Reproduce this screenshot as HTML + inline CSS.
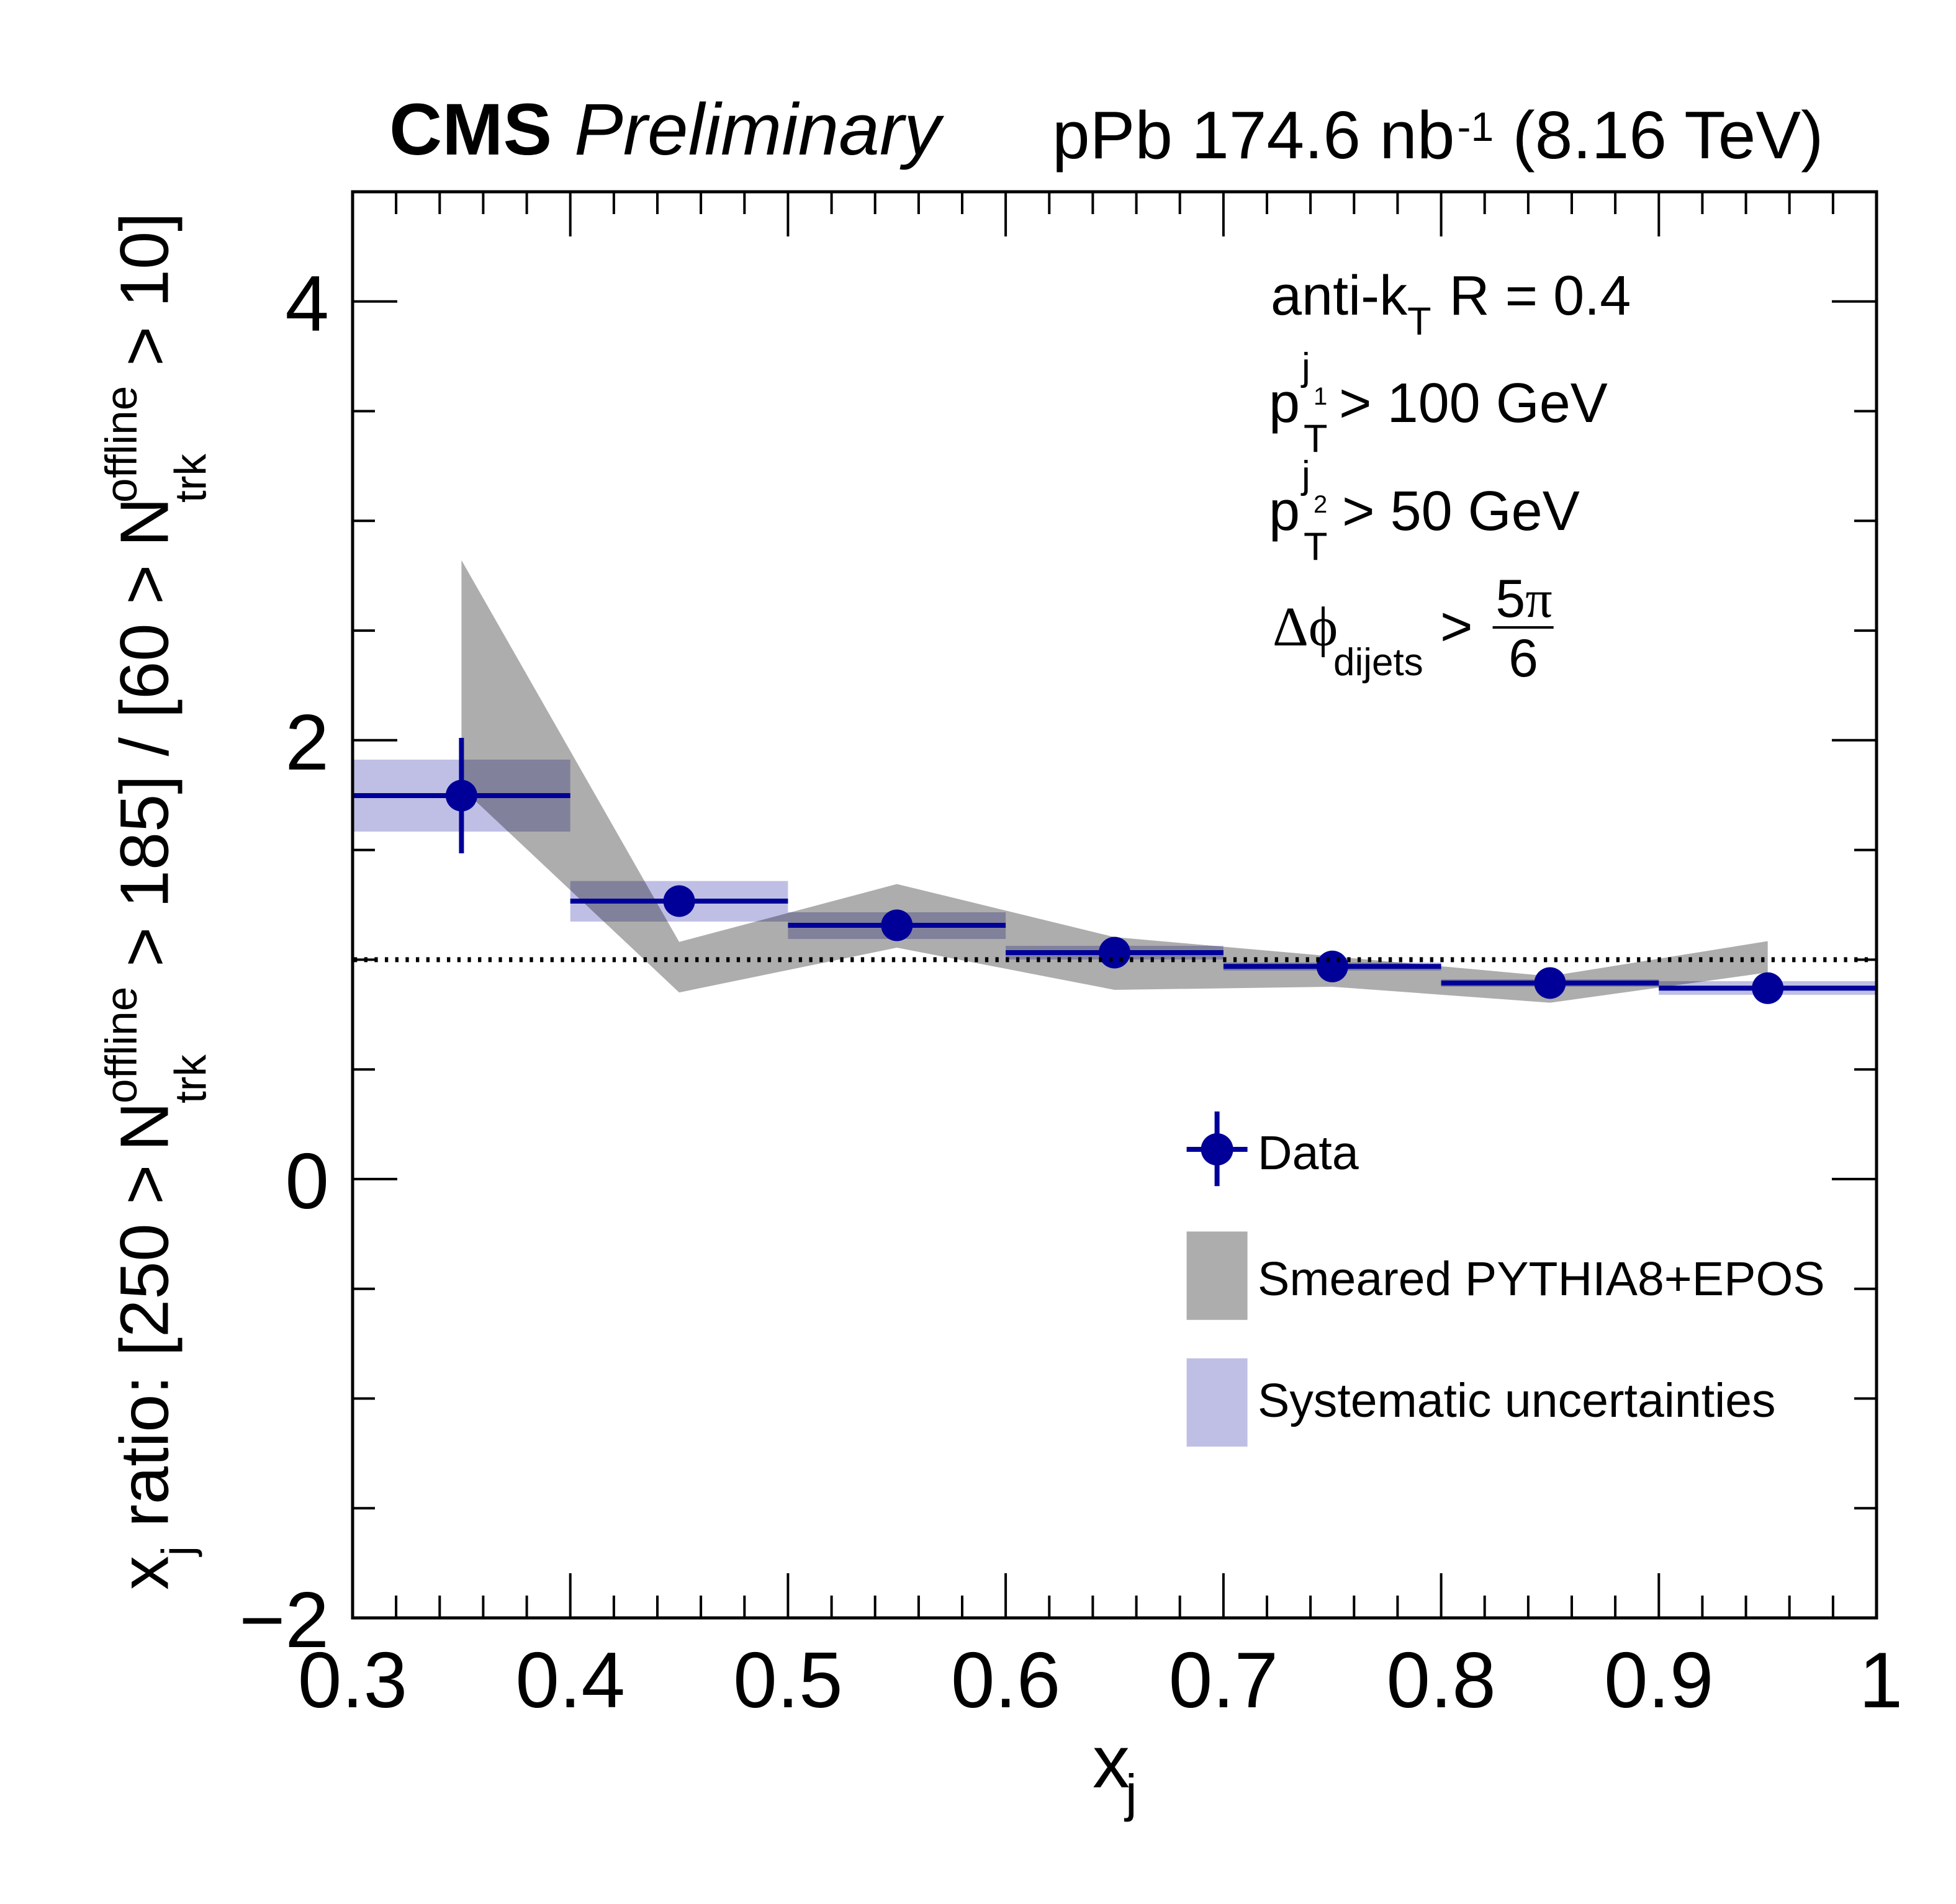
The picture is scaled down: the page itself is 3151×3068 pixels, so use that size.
<!DOCTYPE html>
<html>
<head>
<meta charset="utf-8">
<style>
  html, body { margin: 0; padding: 0; background: #ffffff; }
  svg { display: block; }
  text { font-family: "Liberation Sans", "DejaVu Sans", sans-serif; fill: #000; }
  .serif { font-family: "Liberation Serif", "DejaVu Serif", serif; }
</style>
</head>
<body>
<svg xmlns="http://www.w3.org/2000/svg" width="3151" height="3068" viewBox="0 0 3151 3068">
  <rect x="0" y="0" width="3151" height="3068" fill="#ffffff"/>

  <!-- Systematic uncertainty boxes -->
  <g fill="#000099" fill-opacity="0.25">
    <rect x="568" y="1224" width="350.7" height="116"/>
    <rect x="918.7" y="1419.6" width="350.7" height="65.4"/>
    <rect x="1269.4" y="1470" width="350.7" height="43"/>
    <rect x="1620.1" y="1524" width="350.8" height="22"/>
    <rect x="1970.9" y="1551" width="350.7" height="13"/>
    <rect x="2321.6" y="1578" width="350.7" height="12"/>
    <rect x="2672.3" y="1581" width="350.7" height="22"/>
  </g>

  <!-- Smeared PYTHIA8+EPOS band -->
  <polygon fill="#000000" fill-opacity="0.32"
    points="743.4,902.6 1094.1,1517.8 1444.8,1424.5 1795.5,1510 2146.3,1541 2497,1573 2847.7,1516.5
            2847.7,1567 2497,1615.7 2146.3,1590 1795.5,1595 1444.8,1527 1094.1,1599.2 743.4,1269.4"/>

  <!-- Data error bars -->
  <g stroke="#000099" stroke-width="8" fill="none">
    <path d="M568 1282H918.7M743.4 1189V1375"/>
    <path d="M918.7 1452H1269.4"/>
    <path d="M1269.4 1491H1620.1"/>
    <path d="M1620.1 1535H1970.9"/>
    <path d="M1970.9 1557.3H2321.6"/>
    <path d="M2321.6 1584H2672.3"/>
    <path d="M2672.3 1592.3H3023"/>
  </g>
  <!-- Data markers -->
  <g fill="#000099">
    <circle cx="743.4" cy="1282" r="25.5"/>
    <circle cx="1094.1" cy="1452" r="25.5"/>
    <circle cx="1444.8" cy="1491" r="25.5"/>
    <circle cx="1795.5" cy="1535" r="25.5"/>
    <circle cx="2146.3" cy="1557.3" r="25.5"/>
    <circle cx="2497" cy="1584" r="25.5"/>
    <circle cx="2847.7" cy="1592.3" r="25.5"/>
  </g>

  <!-- Dotted line at 1 -->
  <line x1="570" y1="1546.4" x2="3021" y2="1546.4" stroke="#000" stroke-width="8" stroke-dasharray="5.3 11.37"/>

  <!-- Frame -->
  <rect x="568" y="309" width="2455" height="2298" fill="none" stroke="#000" stroke-width="5"/>

  <!-- Ticks -->
  <g stroke="#000" stroke-width="4" fill="none">
    <path d="M638.1 2607V2571M708.3 2607V2571M778.4 2607V2571M848.6 2607V2571M988.9 2607V2571M1059 2607V2571M1129.1 2607V2571M1199.3 2607V2571M1339.6 2607V2571M1409.7 2607V2571M1479.9 2607V2571M1550 2607V2571M1690.3 2607V2571M1760.4 2607V2571M1830.6 2607V2571M1900.7 2607V2571M2041 2607V2571M2111.1 2607V2571M2181.3 2607V2571M2251.4 2607V2571M2391.7 2607V2571M2461.9 2607V2571M2532 2607V2571M2602.1 2607V2571M2742.4 2607V2571M2812.6 2607V2571M2882.7 2607V2571M2952.9 2607V2571"/>
    <path d="M918.7 2607V2535M1269.4 2607V2535M1620.1 2607V2535M1970.9 2607V2535M2321.6 2607V2535M2672.3 2607V2535"/>
    <path d="M638.1 309V345M708.3 309V345M778.4 309V345M848.6 309V345M988.9 309V345M1059 309V345M1129.1 309V345M1199.3 309V345M1339.6 309V345M1409.7 309V345M1479.9 309V345M1550 309V345M1690.3 309V345M1760.4 309V345M1830.6 309V345M1900.7 309V345M2041 309V345M2111.1 309V345M2181.3 309V345M2251.4 309V345M2391.7 309V345M2461.9 309V345M2532 309V345M2602.1 309V345M2742.4 309V345M2812.6 309V345M2882.7 309V345M2952.9 309V345"/>
    <path d="M918.7 309V381M1269.4 309V381M1620.1 309V381M1970.9 309V381M2321.6 309V381M2672.3 309V381"/>
    <path d="M568 2430.2H604M568 2253.5H604M568 2076.7H604M568 1723.2H604M568 1546.4H604M568 1369.6H604M568 1016.1H604M568 839.3H604M568 662.5H604"/>
    <path d="M568 1899.9H640M568 1192.8H640M568 485.8H640"/>
    <path d="M3023 2430.2H2987M3023 2253.5H2987M3023 2076.7H2987M3023 1723.2H2987M3023 1546.4H2987M3023 1369.6H2987M3023 1016.1H2987M3023 839.3H2987M3023 662.5H2987"/>
    <path d="M3023 1899.9H2951M3023 1192.8H2951M3023 485.8H2951"/>
  </g>

  <!-- X tick labels -->
  <g font-size="127" text-anchor="middle">
    <text x="568" y="2751">0.3</text>
    <text x="918.7" y="2751">0.4</text>
    <text x="1269.4" y="2751">0.5</text>
    <text x="1620.1" y="2751">0.6</text>
    <text x="1970.9" y="2751">0.7</text>
    <text x="2321.6" y="2751">0.8</text>
    <text x="2672.3" y="2751">0.9</text>
    <text x="3030" y="2751">1</text>
  </g>
  <!-- Y tick labels -->
  <g font-size="127" text-anchor="end">
    <text x="530" y="533">4</text>
    <text x="530" y="1240">2</text>
    <text x="530" y="1947">0</text>
    <text x="530" y="2654">−2</text>
  </g>

  <!-- X axis title -->
  <text x="1760" y="2880" font-size="120">x</text>
  <text x="1813" y="2918" font-size="84">j</text>

  <!-- Y axis title -->
  <g transform="translate(270.7,2562) rotate(-90)" font-size="110">
    <text x="0" y="0">x</text>
    <text x="55" y="40" font-size="71">j</text>
    <text x="101.4" y="0">ratio: [250 &gt;</text>
    <text x="707" y="0">N</text>
    <text x="784" y="-50.7" font-size="71">offline</text>
    <text x="784" y="61" font-size="71">trk</text>
    <text x="1004" y="0">&gt; 185] / [60 &gt;</text>
    <text x="1681" y="0">N</text>
    <text x="1752" y="-50.7" font-size="71">offline</text>
    <text x="1752" y="61" font-size="71">trk</text>
    <text x="1972" y="0">&gt; 10]</text>
  </g>

  <!-- CMS Preliminary -->
  <text x="627" y="249" font-size="118" font-weight="bold">CMS</text>
  <text x="925" y="249" font-size="118" font-style="italic">Preliminary</text>

  <!-- Lumi text -->
  <text x="1695" y="255" font-size="109">pPb 174.6 nb<tspan font-size="66" dx="4" dy="-28">-1</tspan><tspan dy="28"> (8.16 TeV)</tspan></text>

  <!-- Annotations -->
  <text x="2047" y="507" font-size="90">anti-k<tspan font-size="63" dy="32">T</tspan><tspan dx="4" dy="-32"> R = 0.4</tspan></text>

  <text x="2044" y="680" font-size="90">p</text>
  <text x="2097" y="612" font-size="62">j</text>
  <text x="2116" y="652" font-size="40">1</text>
  <text x="2100" y="728" font-size="63">T</text>
  <text x="2157" y="680" font-size="90">&gt; 100 GeV</text>

  <text x="2044" y="854" font-size="90">p</text>
  <text x="2097" y="786" font-size="62">j</text>
  <text x="2116" y="826" font-size="40">2</text>
  <text x="2100" y="902" font-size="63">T</text>
  <text x="2162" y="854" font-size="90">&gt; 50 GeV</text>

  <text x="2050" y="1040" font-size="90" class="serif">Δϕ</text>
  <text x="2148" y="1088" font-size="62">dijets</text>
  <text x="2320" y="1040" font-size="90">&gt;</text>
  <text x="2455" y="994" font-size="86" text-anchor="middle">5<tspan class="serif">π</tspan></text>
  <line x1="2404.5" y1="1011" x2="2502.7" y2="1011" stroke="#000" stroke-width="4"/>
  <text x="2454" y="1090" font-size="86" text-anchor="middle">6</text>

  <!-- Legend -->
  <g stroke="#000099" stroke-width="8">
    <line x1="1960.6" y1="1791" x2="1960.6" y2="1911.3"/>
    <line x1="1911.6" y1="1852" x2="2009.6" y2="1852"/>
  </g>
  <circle cx="1960.6" cy="1852" r="26" fill="#000099"/>
  <text x="2026" y="1884" font-size="77">Data</text>

  <rect x="1911.6" y="1984.4" width="98" height="142.4" fill="#adadad"/>
  <text x="2026" y="2087" font-size="77">Smeared PYTHIA8+EPOS</text>

  <rect x="1911.6" y="2188.7" width="98" height="142.3" fill="#bfbfe5"/>
  <text x="2026" y="2283" font-size="77">Systematic uncertainties</text>
</svg>
</body>
</html>
